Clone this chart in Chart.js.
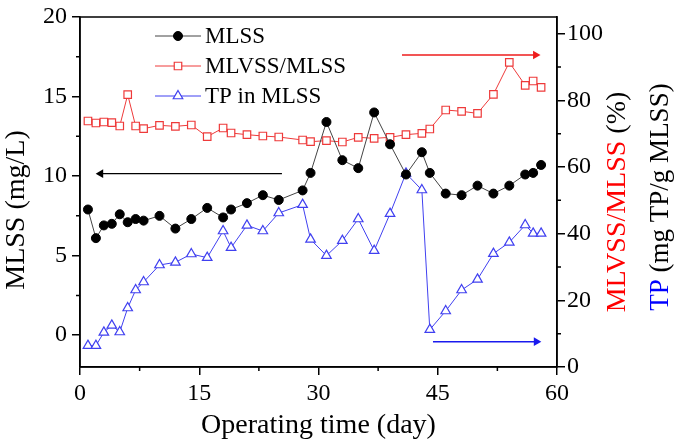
<!DOCTYPE html>
<html>
<head>
<meta charset="utf-8">
<script src="https://cdn.jsdelivr.net/npm/chart.js@4/dist/chart.umd.min.js"></script>
<style>
  html, body { margin: 0; padding: 0; background: #fff; }
  #box { width: 675px; height: 443px; }
</style>
</head>
<body>
<div id="box"><canvas id="mlssChart" width="675" height="443"></canvas></div>
<script>
// operating days and measured values
const days = [1, 2, 3, 4, 5, 6, 7, 8, 10, 12, 14, 16, 18, 19, 21, 23, 25, 28, 29, 31, 33, 35, 37, 39, 41, 43, 44, 46, 48, 50, 52, 54, 56, 57, 58];
const mlss = [7.9, 6.1, 6.9, 7.0, 7.6, 7.1, 7.3, 7.2, 7.5, 6.7, 7.3, 8.0, 7.4, 7.9, 8.3, 8.8, 8.5, 9.1, 10.2, 13.4, 11.0, 10.5, 14.0, 12.0, 10.1, 11.5, 10.2, 8.9, 8.8, 9.4, 8.9, 9.4, 10.1, 10.2, 10.7];
const mlvssRatio = [73.8, 73.2, 73.5, 73.3, 72.3, 81.7, 72.3, 71.5, 72.5, 72.2, 72.6, 69.1, 71.7, 70.2, 69.7, 69.3, 69.0, 68.1, 67.6, 67.9, 67.5, 68.9, 68.6, 68.9, 69.7, 70.1, 71.4, 77.1, 76.7, 76.1, 81.8, 91.4, 84.5, 85.8, 83.9];
const tpInMlss = [6.4, 6.4, 10.4, 12.5, 10.5, 17.7, 23.1, 25.5, 30.6, 31.4, 33.9, 32.8, 40.8, 35.8, 42.5, 40.8, 46.2, 48.7, 38.3, 33.4, 37.9, 44.4, 34.9, 46.0, 58.1, 53.1, 11.2, 16.8, 23.1, 26.3, 34.0, 37.4, 42.6, 40.1, 40.1];

// axis ticks
const xTicks = [0, 15, 30, 45, 60];
const xMinor = [7.5, 22.5, 37.5, 52.5];
const leftTicks = [0, 5, 10, 15, 20];
const leftMinor = [-2.5, 2.5, 7.5, 12.5, 17.5];
const rightTicks = [0, 20, 40, 60, 80, 100];
const rightMinor = [10, 30, 50, 70, 90];

// arrows pointing to the axis of each series: [tail day, head day], level
const arrowMlssX = [25.4, 2.6];
const arrowMlssY = 10.15;
const arrowRatioX = [40.5, 57.3];
const arrowRatioY = 93.6;
const arrowTpX = [44.4, 57.4];
const arrowTpY = 7.6;

const serif = '"Liberation Serif", "DejaVu Serif", serif';
const RED = '#ee3a3a';
const BLUE = '#4040f0';

function pts(xs, ys) {
    return xs.map((d, i) => ({ x: d, y: ys[i] }));
}
function arrow(xs, y) {
    return xs.map(d => ({ x: d, y: y }));
}

// minor ticks, frame, legend and the right-hand titles
const extras = {
    id: 'extras',
    afterDraw(chart) {
        const ctx = chart.ctx;
        const a = chart.chartArea;
        const sx = chart.scales.x, sl = chart.scales.y, sr = chart.scales.y2;
        ctx.save();
        ctx.strokeStyle = '#000';
        ctx.lineWidth = 1.5;
        ctx.beginPath();
        xMinor.forEach(v => { const p = sx.getPixelForValue(v); ctx.moveTo(p, a.bottom); ctx.lineTo(p, a.bottom + 4); });
        leftMinor.forEach(v => { const p = sl.getPixelForValue(v); if (p < a.bottom) { ctx.moveTo(a.left, p); ctx.lineTo(a.left - 4, p); } });
        rightMinor.forEach(v => { const p = sr.getPixelForValue(v); ctx.moveTo(a.right, p); ctx.lineTo(a.right + 4, p); });
        ctx.stroke();
        ctx.strokeRect(a.left, a.top, a.right - a.left, a.bottom - a.top);

        // legend
        const rows = [
            { text: 'MLSS', ds: chart.data.datasets[0], y: 36 },
            { text: 'MLVSS/MLSS', ds: chart.data.datasets[1], y: 66 },
            { text: 'TP in MLSS', ds: chart.data.datasets[2], y: 96 }
        ];
        ctx.font = '23px ' + serif;
        ctx.textBaseline = 'middle';
        rows.forEach(r => {
            ctx.strokeStyle = r.ds.borderColor;
            ctx.lineWidth = 1;
            ctx.beginPath();
            ctx.moveTo(155, r.y);
            ctx.lineTo(201, r.y);
            ctx.stroke();
            ctx.fillStyle = r.ds.pointBackgroundColor;
            ctx.strokeStyle = r.ds.pointBorderColor;
            ctx.lineWidth = r.ds.pointBorderWidth;
            Chart.helpers.drawPoint(ctx, { pointStyle: r.ds.pointStyle, radius: r.ds.pointRadius, rotation: 0, borderWidth: r.ds.pointBorderWidth }, 178, r.y);
            ctx.fillStyle = '#000';
            ctx.fillText(r.text, 205, r.y + 1);
        });

        // axis titles drawn rotated
        function vText(parts, x, y) {
            ctx.save();
            ctx.translate(x, y);
            ctx.rotate(-Math.PI / 2);
            ctx.textBaseline = 'alphabetic';
            ctx.textAlign = 'left';
            let total = 0;
            parts.forEach(p => { total += ctx.measureText(p[0]).width; });
            let pos = -total / 2;
            parts.forEach(p => {
                ctx.fillStyle = p[1];
                ctx.fillText(p[0], pos, 0);
                pos += ctx.measureText(p[0]).width;
            });
            ctx.restore();
        }
        ctx.font = '28px ' + serif;
        vText([['MLSS (mg/L)', '#000']], 24, 210);
        vText([['MLVSS/MLSS', '#ff0000'], [' (%)', '#000']], 625, 202);
        ctx.font = '27px ' + serif;
        vText([['TP', '#0000ff'], [' (mg TP/g MLSS)', '#000']], 668, 197);
        ctx.restore();
    }
};

const ctx = document.getElementById('mlssChart').getContext('2d');
window.myChart = new Chart(ctx, {
    type: 'line',
    data: {
        datasets: [{
            label: 'MLSS',
            data: pts(days, mlss),
            yAxisID: 'y',
            borderColor: '#444',
            borderWidth: 1,
            pointStyle: 'circle',
            pointRadius: 4.5,
            pointBackgroundColor: '#000',
            pointBorderColor: '#000',
            pointBorderWidth: 1
        }, {
            label: 'MLVSS/MLSS',
            data: pts(days, mlvssRatio),
            yAxisID: 'y2',
            borderColor: RED,
            borderWidth: 1,
            pointStyle: 'rect',
            pointRadius: 5.3,
            pointBackgroundColor: '#fff',
            pointBorderColor: RED,
            pointBorderWidth: 1.2
        }, {
            label: 'TP in MLSS',
            data: pts(days, tpInMlss),
            yAxisID: 'y2',
            borderColor: BLUE,
            borderWidth: 1,
            pointStyle: 'triangle',
            pointRadius: 5.5,
            pointBackgroundColor: '#fff',
            pointBorderColor: BLUE,
            pointBorderWidth: 1.2
        }, {
            label: 'arrow MLSS',
            data: arrow(arrowMlssX, arrowMlssY),
            yAxisID: 'y',
            borderColor: '#000',
            borderWidth: 1.2,
            pointStyle: 'triangle',
            pointRadius: [0, 5],
            pointRotation: -90,
            pointBackgroundColor: '#000',
            pointBorderColor: '#000',
            pointBorderWidth: 0
        }, {
            label: 'arrow ratio',
            data: arrow(arrowRatioX, arrowRatioY),
            yAxisID: 'y2',
            borderColor: '#ee1c1c',
            borderWidth: 1.5,
            pointStyle: 'triangle',
            pointRadius: [0, 5],
            pointRotation: 90,
            pointBackgroundColor: '#ee1c1c',
            pointBorderColor: '#ee1c1c',
            pointBorderWidth: 0
        }, {
            label: 'arrow TP',
            data: arrow(arrowTpX, arrowTpY),
            yAxisID: 'y2',
            borderColor: '#1a1aee',
            borderWidth: 1.5,
            pointStyle: 'triangle',
            pointRadius: [0, 5],
            pointRotation: 90,
            pointBackgroundColor: '#1a1aee',
            pointBorderColor: '#1a1aee',
            pointBorderWidth: 0
        }]
    },
    options: {
        responsive: false,
        animation: false,
        events: [],
        layout: { padding: { top: 12, left: 0, right: 0, bottom: 0 } },
        plugins: { legend: { display: false }, tooltip: { enabled: false } },
        elements: { line: { tension: 0 } },
        scales: {
            x: {
                type: 'linear',
                min: 0,
                max: 60,
                afterBuildTicks: s => { s.ticks = xTicks.map(v => ({ value: v })); },
                afterFit: s => { s.height = 76; },
                grid: { drawOnChartArea: false, tickLength: 8, color: '#000', lineWidth: 1.5 },
                border: { display: true, color: '#000', width: 1.5 },
                ticks: { color: '#000', padding: 7, maxRotation: 0, font: { family: serif, size: 24, lineHeight: 1 } },
                title: { display: true, text: 'Operating time (day)', color: '#000', padding: { top: 0, bottom: 1 }, font: { family: serif, size: 28 } }
            },
            y: {
                type: 'linear',
                position: 'left',
                min: -2,
                max: 20,
                afterBuildTicks: s => { s.ticks = leftTicks.map(v => ({ value: v })); },
                afterFit: s => { s.width = 80; },
                grid: { drawOnChartArea: false, tickLength: 8, color: '#000', lineWidth: 1.5 },
                border: { display: true, color: '#000', width: 1.5 },
                ticks: { color: '#000', padding: 5, font: { family: serif, size: 24, lineHeight: 1 } }
            },
            y2: {
                type: 'linear',
                position: 'right',
                min: 0,
                max: 105,
                afterBuildTicks: s => { s.ticks = rightTicks.map(v => ({ value: v })); },
                afterFit: s => { s.width = 118; },
                grid: { drawOnChartArea: false, tickLength: 8, color: '#000', lineWidth: 1.5 },
                border: { display: true, color: '#000', width: 1.5 },
                ticks: { color: '#000', padding: 2, font: { family: serif, size: 24, lineHeight: 1 } }
            }
        }
    },
    plugins: [extras]
});
</script>
</body>
</html>
